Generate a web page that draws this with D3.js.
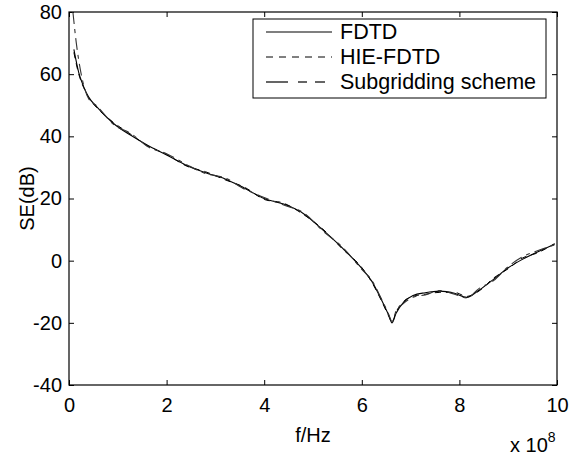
<!DOCTYPE html>
<html><head><meta charset="utf-8">
<script src="https://cdn.jsdelivr.net/npm/d3@7"></script>
<style>body{margin:0;background:#fff}svg{display:block}text{font-family:Arial,"Liberation Sans",Helvetica,sans-serif}</style>
</head><body>
<svg id="c" width="569" height="456"></svg>
<script>
// frequency in units of 1e8 Hz
const fdtdF = [0.1,0.2,0.3,0.4,0.57,0.9,1.3,1.6,2.0,2.4,2.8,3.2,3.6,4.0,4.4,4.8,5.2,5.6,6.0,6.2,6.4,6.55,6.62,6.7,6.85,7.05,7.3,7.6,7.9,8.15,8.4,8.7,9.0,9.3,9.6,9.95];
const fdtdSE = [68,60.5,56,52.7,49.5,44.3,40,37.2,34,30.7,28.3,26.3,23.3,20,18.2,15.2,9.9,4.1,-2.5,-6.5,-12.5,-17.5,-20,-17,-13.5,-11.2,-10.3,-9.8,-10.5,-11.8,-9.5,-6,-2.3,0.5,2.8,5.3];
const hieF = [0.1,0.2,0.3,0.4,0.57,0.9,1.3,1.6,2.0,2.4,2.8,3.2,3.6,4.0,4.4,4.8,5.2,5.6,6.0,6.2,6.4,6.55,6.62,6.7,6.85,7.05,7.3,7.6,7.9,8.15,8.4,8.7,9.0,9.3,9.6,9.95];
const hieSE = [67,60,55.7,52.5,49.2,44.6,40.3,37,34.2,30.5,28.6,26,23.6,19.7,18.5,14.9,10.2,3.8,-2.2,-6.8,-12.8,-17.8,-19.8,-16.6,-13.2,-11.5,-10.8,-10.2,-10.2,-11.5,-9.8,-5.6,-2.6,0.9,2.5,5.5];
const subF = [0.08,0.15,0.25,0.4,0.57,0.9,1.3,1.6,2.0,2.4,2.8,3.2,3.6,4.0,4.4,4.8,5.2,5.6,6.0,6.2,6.4,6.55,6.62,6.7,6.85,7.05,7.3,7.6,7.9,8.15,8.4,8.7,9.0,9.3,9.6,9.95];
const subSE = [80,70,60,52.2,49.8,44,40.6,36.8,34.4,31,28,26.6,23,20.3,17.9,15.5,9.6,4.4,-2.8,-6.2,-12.2,-17.2,-19.6,-16.3,-13.8,-11.8,-11,-9.6,-10.8,-12,-9,-6.4,-1.9,1.3,3.2,5.1];
const xTicks = [0,2,4,6,8,10];
const yTicks = [-40,-20,0,20,40,60,80];
const seriesNames = ["FDTD","HIE-FDTD","Subgridding scheme"];

const svg = d3.select("#c");
const L=69, R=557, T=12, B=385;
const x = d3.scaleLinear().domain([0,10]).range([L,R]);
const y = d3.scaleLinear().domain([-40,80]).range([B,T]);
const fs = 20;
const fmt = d => String(d); // plain hyphen minus

const gx = svg.append("g").attr("transform",`translate(0,${B})`)
  .call(d3.axisBottom(x).tickValues(xTicks).tickSize(-5).tickFormat(fmt));
const gxt = svg.append("g").attr("transform",`translate(0,${T})`)
  .call(d3.axisTop(x).tickValues(xTicks).tickSize(-5).tickFormat(""));
const gy = svg.append("g").attr("transform",`translate(${L},0)`)
  .call(d3.axisLeft(y).tickValues(yTicks).tickSize(-5).tickPadding(7).tickFormat(fmt));
const gyr = svg.append("g").attr("transform",`translate(${R},0)`)
  .call(d3.axisRight(y).tickValues(yTicks).tickSize(-5).tickFormat(""));
[gx,gxt,gy,gyr].forEach(g=>{
  g.select(".domain").remove();
  g.selectAll("line").attr("stroke","#000").attr("stroke-width",1);
  g.selectAll("text").attr("font-size",fs).attr("fill","#000").attr("font-family","Arial, 'Liberation Sans', sans-serif");
});
gx.selectAll("text").attr("dy",null).attr("y",27);
svg.append("rect").attr("x",L).attr("y",T).attr("width",R-L).attr("height",B-T)
  .attr("fill","none").attr("stroke","#000").attr("stroke-width",1.2);

const line = d3.line().x(d=>x(d[0])).y(d=>y(d[1])).curve(d3.curveMonotoneX);
const styles = [
  {dash:null, color:"#000", w:1.1, ldash:null},
  {dash:"6,5", color:"#000", w:1, ldash:"7,6"},
  {dash:"12,5,4,5", color:"#333", w:1.1, ldash:"22,10,9,8,10,20"}
];
const data = [d3.zip(fdtdF,fdtdSE), d3.zip(hieF,hieSE), d3.zip(subF,subSE)];
svg.append("clipPath").attr("id","cp").append("rect").attr("x",L).attr("y",T).attr("width",R-L).attr("height",B-T);
data.forEach((d,i)=>{
  svg.append("path").attr("d",line(d)).attr("fill","none")
    .attr("stroke",styles[i].color).attr("stroke-width",styles[i].w)
    .attr("stroke-dasharray",styles[i].dash).attr("clip-path","url(#cp)");
});

// labels
svg.append("text").attr("x",(L+R)/2).attr("y",442).attr("text-anchor","middle").attr("font-size",fs).text("f/Hz");
svg.append("text").attr("transform",`translate(34,${(T+B)/2}) rotate(-90)`).attr("text-anchor","middle").attr("font-size",fs).text("SE(dB)");
const ex = svg.append("text").attr("x",510).attr("y",452).attr("font-size",fs);
ex.append("tspan").text("x 10");
ex.append("tspan").attr("font-size",14).attr("dy",-10).text("8");

// legend
const lg = svg.append("g");
const lx=253, ly=19, lw=293, lh=79;
lg.append("rect").attr("x",lx).attr("y",ly).attr("width",lw).attr("height",lh).attr("fill","#fff").attr("stroke","#000").attr("stroke-width",1);
seriesNames.forEach((n,i)=>{
  const yy = 32+i*25;
  lg.append("line").attr("x1",266).attr("x2",332).attr("y1",yy).attr("y2",yy)
    .attr("stroke",styles[i].color).attr("stroke-width",i==2?1.6:styles[i].w).attr("stroke-dasharray",styles[i].ldash);
  lg.append("text").attr("x",340).attr("y",yy+7).attr("font-size",21.5).text(n);
});
</script>
</body></html>
